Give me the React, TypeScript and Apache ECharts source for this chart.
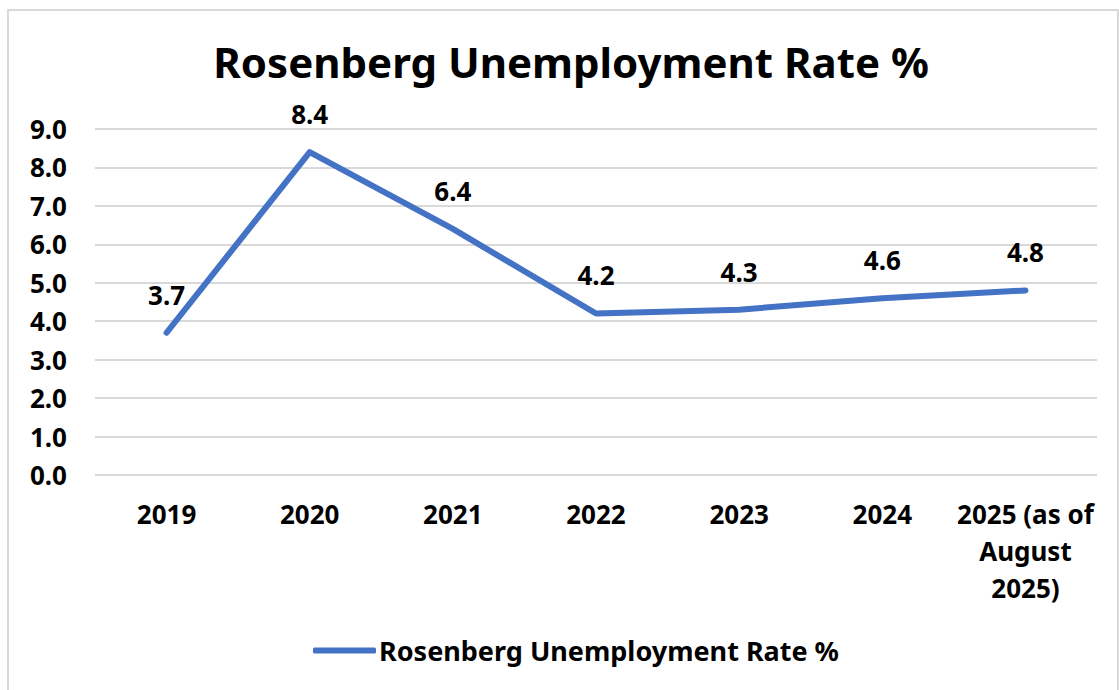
import React, { useEffect, useRef } from "react";
import * as echarts from "echarts";

const categories = ["2019", "2020", "2021", "2022", "2023", "2024", "2025 (as of August 2025)"];
const categoryLabels = ["2019", "2020", "2021", "2022", "2023", "2024", "2025 (as of\nAugust\n2025)"];
const rates = [3.7, 8.4, 6.4, 4.2, 4.3, 4.6, 4.8];
const seriesName = "Rosenberg Unemployment Rate %";
const titleText = "Rosenberg Unemployment Rate %";

const FONT = "'Noto Sans', 'Open Sans', sans-serif";

export default function App() {
  const ref = useRef<HTMLDivElement>(null);
  useEffect(() => {
    if (!ref.current) return;
    const chart = echarts.init(ref.current, undefined, { renderer: "svg" });
    chart.setOption({
      animation: false,
      backgroundColor: "#ffffff",
      textStyle: { fontFamily: FONT },
      title: {
        text: titleText,
        left: 566,
        textAlign: "center",
        top: 35,
        textStyle: { fontSize: 42, fontWeight: "bold", color: "#000000", fontFamily: FONT },
      },
      graphic: [
        {
          type: "rect",
          shape: { x: 8, y: 10, width: 1110, height: 700 },
          style: { fill: "none", stroke: "#d9d9d9", lineWidth: 2 },
          silent: true,
        },
      ],
      grid: { left: 95, right: 22, top: 129, bottom: 215, containLabel: false },
      xAxis: {
        type: "category",
        data: categories,
        boundaryGap: true,
        axisLine: { show: false },
        axisTick: { show: false },
        axisLabel: {
          interval: 0,
          margin: 20,
          fontSize: 26,
          fontWeight: "bold",
          color: "#000000",
          fontFamily: FONT,
          lineHeight: 37,
          formatter: (_v: string, i: number) => categoryLabels[i],
        },
      },
      yAxis: {
        type: "value",
        min: 0,
        max: 9,
        interval: 1,
        axisLine: { show: false },
        axisTick: { show: false },
        axisLabel: {
          margin: 28,
          fontSize: 26,
          fontWeight: "bold",
          color: "#000000",
          fontFamily: FONT,
          formatter: (v: number) => v.toFixed(1),
        },
        splitLine: { lineStyle: { color: "#d9d9d9", width: 2 } },
      },
      legend: {
        top: 632,
        left: 308,
        itemWidth: 63,
        itemHeight: 6,
        itemGap: 10,
        data: [{ name: seriesName, icon: "roundRect" }],
        textStyle: { fontSize: 27, fontWeight: "bold", color: "#000000", fontFamily: FONT, padding: [0, 0, 0, -2] },
      },
      series: [
        {
          name: seriesName,
          type: "line",
          data: rates,
          symbol: "circle",
          symbolSize: 0.1,
          showSymbol: true,
          lineStyle: { color: "#4472C4", width: 6, cap: "round", join: "round" },
          itemStyle: { color: "#4472C4" },
          label: {
            show: true,
            position: "top",
            distance: 25,
            fontSize: 26,
            fontWeight: "bold",
            color: "#000000",
            fontFamily: FONT,
            formatter: (p: any) => Number(p.value).toFixed(1),
          },
        },
      ],
    });
    return () => chart.dispose();
  }, []);
  return <div ref={ref} style={{ position: "fixed", left: 0, top: 0, width: 1119, height: 690 }} />;
}
